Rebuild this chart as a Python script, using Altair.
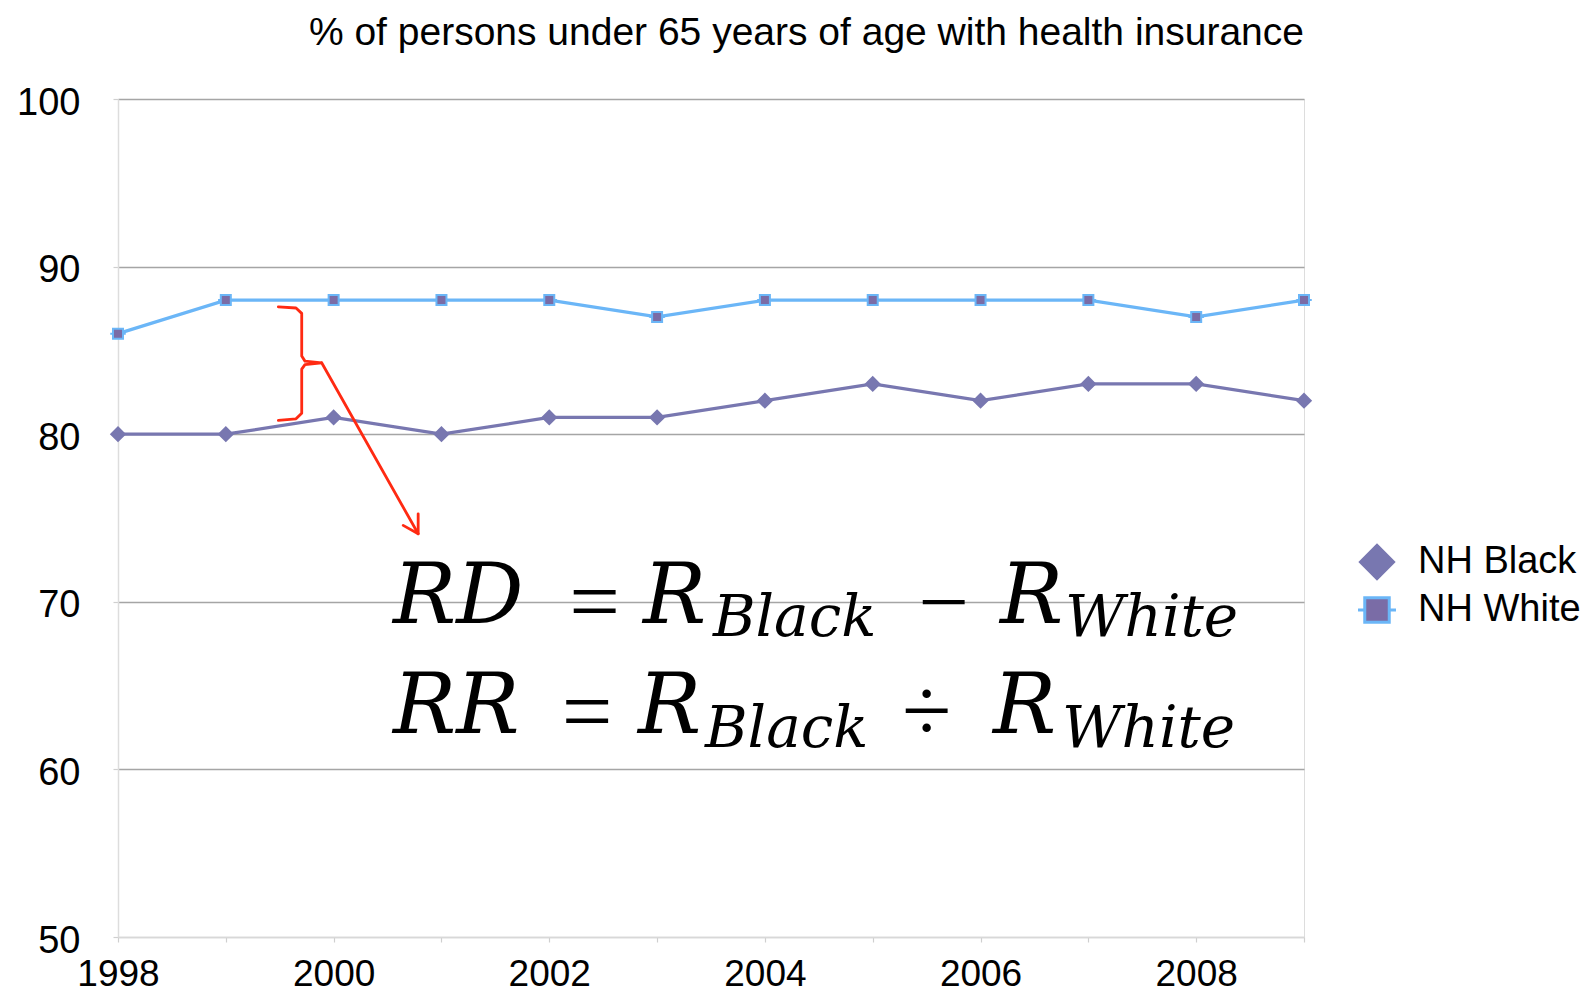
import altair as alt
import pandas as pd

# ---------------- data ----------------
years = list(range(1998, 2010))
nh_black = [80, 80, 81, 80, 81, 81, 82, 83, 82, 83, 83, 82]
nh_white = [86, 88, 88, 88, 88, 87, 88, 88, 88, 88, 87, 88]
series_names = ["NH Black", "NH White"]
y_ticks = [50, 60, 70, 80, 90, 100]
title_text = "% of persons under 65 years of age with health insurance"

# formula annotation pieces (text, year-position, value-position, font size, italic)
f_text = ["RD", "=", "R", "Black", "\u2212", "R", "White",
          "RR", "=", "R", "Black", "\u00f7", "R", "White"]
f_x = [2000.551, 2002.42, 2002.869, 2003.518, 2005.661, 2006.18, 2006.783,
       2000.551, 2002.35, 2002.823, 2003.444, 2005.50, 2006.115, 2006.755]
f_y = [68.76, 68.22, 68.76, 67.98, 68.22, 68.76, 67.98,
       62.19, 61.65, 62.19, 61.35, 61.70, 62.19, 61.35]
f_size = [84, 90, 84, 58, 90, 84, 58,
          84, 90, 84, 58, 90, 84, 58]
f_italic = [True, False, True, True, False, True, True,
            True, False, True, True, False, True, True]

# red brace and arrow (in data space)
brace_x = [1999.487, 1999.651, 1999.704, 1999.704, 1999.734, 1999.889,
           1999.734, 1999.704, 1999.704, 1999.651, 1999.487]
brace_y = [87.60, 87.53, 87.21, 84.66, 84.36, 84.26,
           84.15, 83.88, 81.25, 80.92, 80.83]
arrow_x = [1999.889, 2000.784]
arrow_y = [84.26, 74.06]
head_x = [2000.784, 2000.784, 2000.645]
head_y = [75.25, 74.06, 74.56]

# ---------------- tables ----------------
rows = []
for yr, b, w in zip(years, nh_black, nh_white):
    rows.append({"year": yr, "value": b, "series": "NH Black"})
    rows.append({"year": yr, "value": w, "series": "NH White"})
df = pd.DataFrame(rows)

df_f = pd.DataFrame({"t": f_text, "x": f_x, "y": f_y, "s": f_size, "it": f_italic})

ann_rows = []
for i, (a, b) in enumerate(zip(brace_x, brace_y)):
    ann_rows.append({"x": a, "y": b, "seg": "brace", "i": i})
for i, (a, b) in enumerate(zip(arrow_x, arrow_y)):
    ann_rows.append({"x": a, "y": b, "seg": "arrow", "i": i})
for i, (a, b) in enumerate(zip(head_x, head_y)):
    ann_rows.append({"x": a, "y": b, "seg": "head", "i": i})
df_a = pd.DataFrame(ann_rows)

PURPLE = "#7877B0"
SQ_FILL = "#7A6CA6"
BLUE = "#6BB6F7"
RED = "#FF2A12"
FONT = "Liberation Sans"

xscale = alt.Scale(domain=[1998, 2009], nice=False, zero=False)
yscale = alt.Scale(domain=[50, 100], nice=False, zero=False)

x_enc = alt.X(
    "year:Q", scale=xscale,
    axis=alt.Axis(
        values=years, title=None,
        labelExpr="datum.value % 2 == 0 ? toString(datum.value) : ''",
        labelFontSize=37, labelFont=FONT, labelColor="#000000",
        labelPadding=14, tickSize=5, tickColor="#cfcfcf", tickWidth=1.2,
        domainColor="#d8d8d8", domainWidth=1.5, grid=False,
        labelFlush=False, labelOverlap=False,
    ),
)
y_enc = alt.Y(
    "value:Q", scale=yscale,
    axis=alt.Axis(
        values=y_ticks, title=None, labelFontSize=38, labelFont=FONT,
        labelColor="#000000", labelPadding=33, tickSize=5, labelOffset=4,
        tickColor="#cfcfcf", tickWidth=1.2,
        domainColor="#dddddd", domainWidth=1.5,
        grid=True,
        gridColor={"condition": {"test": "datum.value == 50", "value": "#d8d8d8"},
                   "value": "#a5a5a5"},
        gridWidth=1.5, labelFlush=False,
    ),
)

base = alt.Chart(df)

lines = base.mark_line(strokeWidth=3.2).encode(
    x=x_enc, y=y_enc,
    color=alt.Color("series:N", scale=alt.Scale(domain=series_names, range=[PURPLE, BLUE]),
                    legend=None),
)

diamond = "M-1.35,0L0,-1.35L1.35,0L0,1.35Z"
square = "M-1.55,0H-1M1,0H1.55M-1,-1H1V1H-1Z"

leg = alt.Legend(
    title=None, orient="none", legendX=1240, legendY=444,
    labelFontSize=38, labelFont=FONT, labelColor="#000000", labelLimit=400,
    symbolSize=600, symbolStrokeWidth=3, labelOffset=22, rowPadding=6,
    symbolOpacity=1,
)

points = base.mark_point(filled=True, strokeWidth=2, opacity=1, size=100).encode(
    x=x_enc, y=y_enc,
    shape=alt.Shape("series:N", scale=alt.Scale(domain=series_names, range=[diamond, square]),
                    legend=leg),
    fill=alt.Fill("series:N", scale=alt.Scale(domain=series_names, range=[PURPLE, SQ_FILL]),
                  legend=leg),
    stroke=alt.Stroke("series:N", scale=alt.Scale(domain=series_names, range=[PURPLE, BLUE]),
                      legend=leg),
)

ann = alt.Chart(df_a).mark_line(color=RED, strokeWidth=2.8, strokeJoin="round",
                                strokeCap="round").encode(
    x=alt.X("x:Q", scale=xscale), y=alt.Y("y:Q", scale=yscale),
    detail="seg:N", order="i:Q",
)

f_it = alt.Chart(df_f).transform_filter("datum.it").mark_text(
    font="DejaVu Serif", fontStyle="italic", align="left", baseline="alphabetic",
    color="#000000",
).encode(
    x=alt.X("x:Q", scale=xscale), y=alt.Y("y:Q", scale=yscale),
    text="t:N", size=alt.Size("s:Q", scale=None),
)
f_up = alt.Chart(df_f).transform_filter("!datum.it").mark_text(
    font="Liberation Serif", align="center", baseline="alphabetic", color="#000000",
).encode(
    x=alt.X("x:Q", scale=xscale), y=alt.Y("y:Q", scale=yscale),
    text="t:N", size=alt.Size("s:Q", scale=None),
)

chart = alt.layer(lines, points, ann, f_it, f_up).properties(
    width=1186, height=838,
    title=alt.TitleParams(title_text, anchor="end", frame="group", fontSize=39,
                          font=FONT, fontWeight="normal", color="#000000", offset=31),
    autosize=alt.AutoSizeParams(type="none"),
    padding={"left": 110, "top": 91, "right": 278, "bottom": 61},
).resolve_scale(
    color="independent"
).configure_view(stroke=None, fill="#fdfdfd").configure(background="#ffffff")

chart.save("out.html", embed_options={"renderer": "svg", "actions": False})
